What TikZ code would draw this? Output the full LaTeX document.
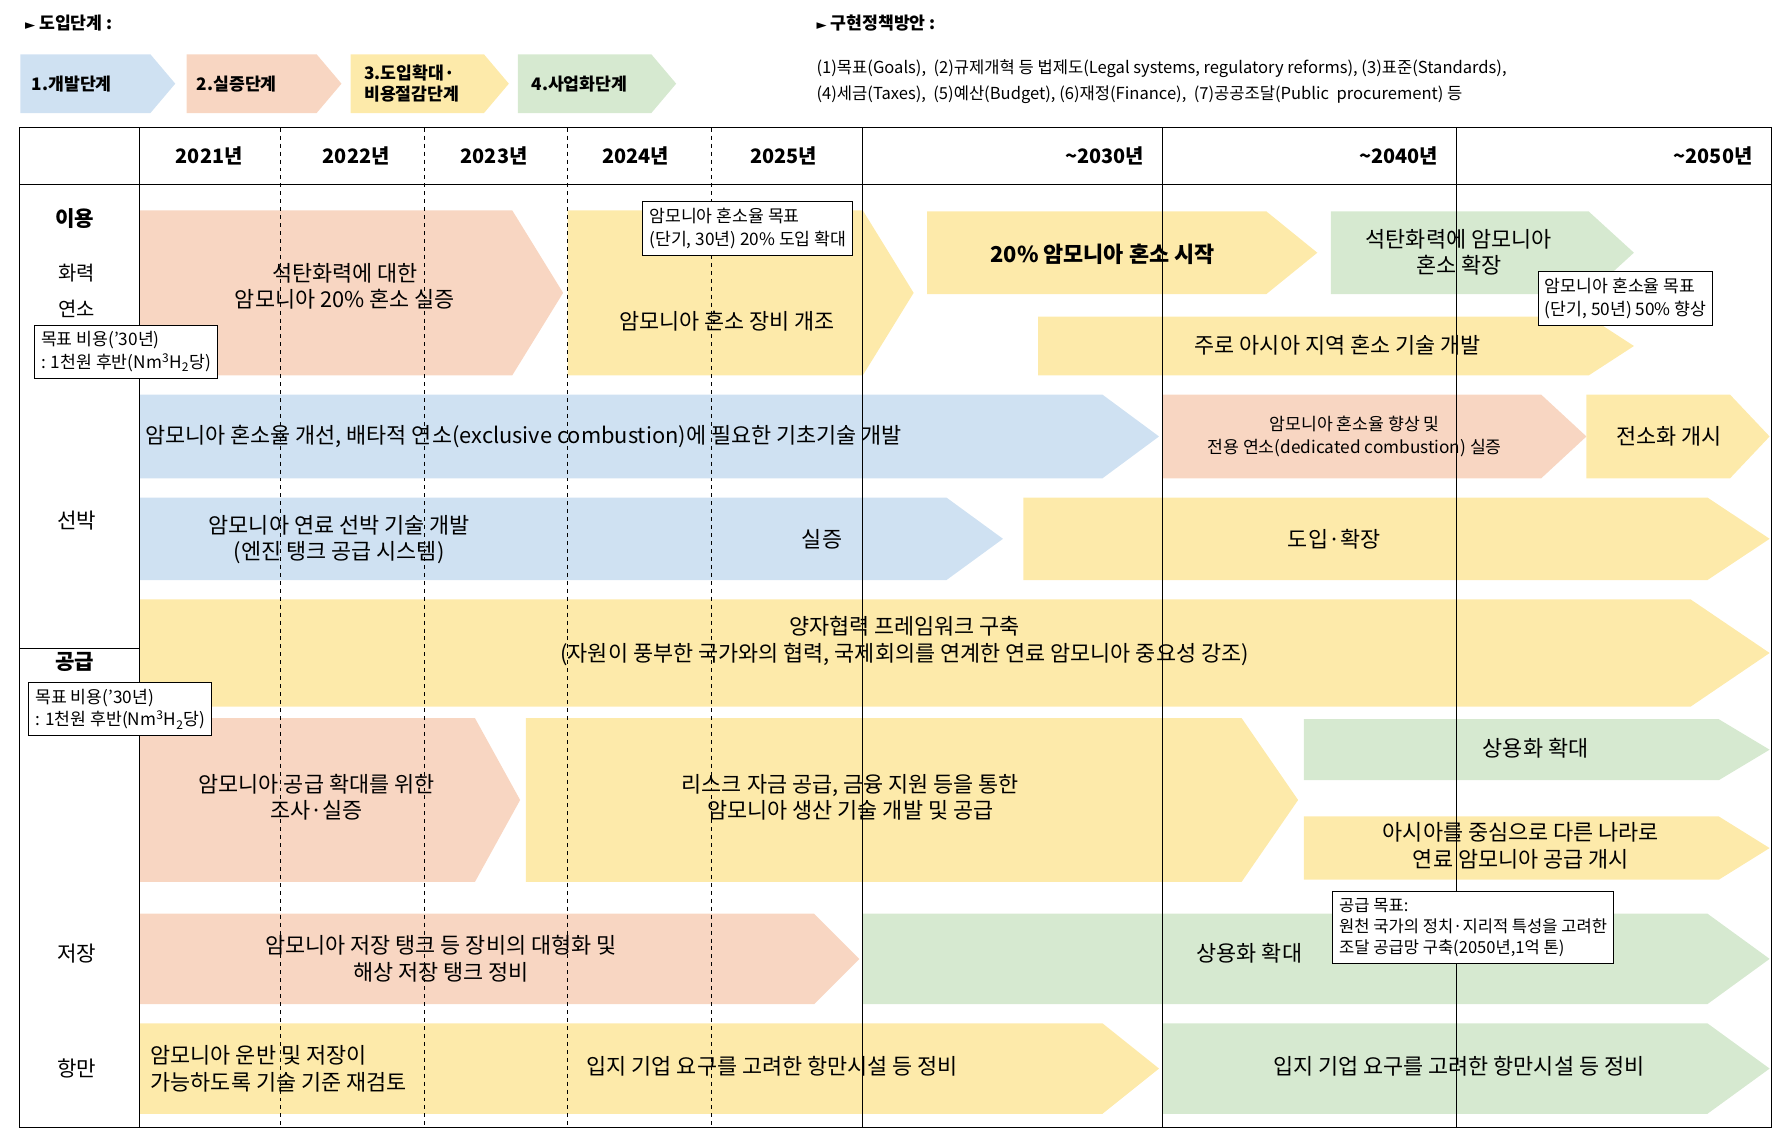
\documentclass[tikz,border=0pt]{standalone}
\usepackage{fontspec}
\setmainfont{Noto Sans CJK KR}
\newfontfamily\kserif{Noto Sans CJK KR}
\newfontfamily\djv{DejaVu Sans}
\begin{document}
\begin{tikzpicture}[x=0.03cm,y=-0.03cm,
  txt/.style={font=\fontsize{16.5}{20}\selectfont,align=center,inner sep=0pt},
  sml/.style={font=\fontsize{13}{17}\selectfont,align=center,inner sep=0pt},
  callout/.style={draw=black,fill=white,line width=0.8pt,font=\fontsize{13}{17}\selectfont,align=left,inner sep=5pt,anchor=north west},
  yr/.style={font=\bfseries\fontsize{15}{18}\selectfont,inner sep=0pt},
  rowlab/.style={font=\fontsize{16}{20}\selectfont,inner sep=0pt},
  grid/.style={line width=0.6pt},
  dgrid/.style={line width=0.6pt,dashed}]
\definecolor{cblue}{HTML}{CFE1F2}
\definecolor{cpeach}{HTML}{F8D6C2}
\definecolor{cyel}{HTML}{FDEAAA}
\definecolor{cgreen}{HTML}{D6E9D0}
\newcommand{\arr}[6]{\fill[#6] (#1,#3) -- ({#2-#5},#3) -- (#2,{(#3+#4)/2}) -- ({#2-#5},#4) -- (#1,#4) -- cycle;}
\newcommand{\hsub}{H\textsubscript{2}}
\useasboundingbox (0,0) rectangle (1568,998);
% header
\node[anchor=west,font=\bfseries\fontsize{13}{16}\selectfont] (h1) at (18,20) {{\djv\fontsize{10}{12}\selectfont ►} 도입단계 :};
\arr{18}{155}{48}{100}{22}{cblue}
\arr{165}{302}{48}{100}{22}{cpeach}
\arr{310}{450}{48}{100}{22}{cyel}
\arr{458}{598}{48}{100}{22}{cgreen}
\node[anchor=west,font=\bfseries\fontsize{13}{16}\selectfont] (l1) at (24,74) {1.개발단계};
\node[anchor=west,font=\bfseries\fontsize{13}{16}\selectfont] (l2) at (170,74) {2.실증단계};
\node[anchor=west,align=left,font=\bfseries\fontsize{13}{16}\selectfont] (l3) at (318,74) {3.도입확대·\\비용절감단계};
\node[anchor=west,font=\bfseries\fontsize{13}{16}\selectfont] (l4) at (466,74) {4.사업화단계};
\node[anchor=west,font=\bfseries\fontsize{13}{16}\selectfont] (h2) at (718,20) {{\djv\fontsize{10}{12}\selectfont ►} 구현정책방안 :};
\node[anchor=west,align=left,font=\kserif\fontsize{12.5}{20}\selectfont] (pol) at (718,72) {(1)목표(Goals),\ \ (2)규제개혁 등 법제도(Legal systems, regulatory reforms), (3)표준(Standards),\\(4)세금(Taxes),\ \ (5)예산(Budget), (6)재정(Finance),\ \ (7)공공조달(Public\ \ procurement) 등};
% bars
\arr{123}{498}{186}{332}{45}{cpeach}
\arr{502}{808}{186}{332}{45}{cyel}
\arr{820}{1165}{187}{260}{45}{cyel}
\arr{1177}{1445}{187}{260}{40}{cgreen}
\arr{918}{1445}{280}{332}{40}{cyel}
\arr{123}{1025}{349}{423}{50}{cblue}
\arr{1028}{1403}{349}{423}{40}{cpeach}
\arr{1403}{1565}{349}{423}{35}{cyel}
\arr{123}{887}{440}{513}{50}{cblue}
\arr{905}{1565}{440}{513}{55}{cyel}
\arr{123}{1565}{530}{625}{70}{cyel}
\arr{123}{460}{635}{780}{40}{cpeach}
\arr{465}{1148}{635}{780}{50}{cyel}
\arr{1153}{1565}{636}{690}{45}{cgreen}
\arr{1153}{1565}{722}{778}{45}{cyel}
\arr{123}{760}{808}{888}{40}{cpeach}
\arr{763}{1565}{808}{888}{55}{cgreen}
\arr{123}{1025}{905}{985}{50}{cyel}
\arr{1028}{1565}{905}{985}{55}{cgreen}
% grid
\draw[grid] (17,113) rectangle (1567,997);
\draw[grid] (17,163) -- (1567,163);
\draw[grid] (17,573) -- (123,573);
\draw[grid] (123,113) -- (123,997);
\foreach \x in {248,375,502,629} \draw[dgrid] (\x,113) -- (\x,997);
\foreach \x in {763,1028,1288} \draw[grid] (\x,113) -- (\x,997);
% years
\node[yr] (y1) at (185,138) {2021년};
\node[yr] (y2) at (315,138) {2022년};
\node[yr] (y3) at (437,138) {2023년};
\node[yr] (y4) at (562,138) {2024년};
\node[yr] (y5) at (693,138) {2025년};
\node[yr,anchor=east] (y6) at (1012,138) {\textasciitilde 2030년};
\node[yr,anchor=east] (y7) at (1272,138) {\textasciitilde 2040년};
\node[yr,anchor=east] (y8) at (1550,138) {\textasciitilde 2050년};
% row labels
\node[rowlab,font=\bfseries\fontsize{16}{20}\selectfont] (r1) at (66,193) {이용};
\node[rowlab,align=center,font=\fontsize{15}{27}\selectfont] (r2) at (68,257) {화력\\연소};
\node[rowlab] (r3) at (68,460) {선박};
\node[rowlab,font=\bfseries\fontsize{16}{20}\selectfont] (r4) at (66,585) {공급};
\node[rowlab] (r5) at (68,843) {저장};
\node[rowlab] (r6) at (68,945) {항만};
% bar texts
\node[txt] (t1) at (305,253) {석탄화력에 대한\\암모니아 20\% 혼소 실증};
\node[txt] (t2) at (643,284) {암모니아 혼소 장비 개조};
\node[txt,font=\bfseries\fontsize{16.5}{20}\selectfont] (t3) at (975,225) {20\% 암모니아 혼소 시작};
\node[txt] (t4) at (1290,223) {석탄화력에 암모니아\\혼소 확장};
\node[txt] (t5) at (1183,305) {주로 아시아 지역 혼소 기술 개발};
\node[txt,anchor=west] (t6) at (128,386) {암모니아 혼소율 개선, 배타적 연소(exclusive combustion)에 필요한 기초기술 개발};
\node[sml] (t7) at (1198,386) {암모니아 혼소율 향상 및\\전용 연소(dedicated combustion) 실증};
\node[txt] (t8) at (1476,386) {전소화 개시};
\node[txt] (t9) at (300,477) {암모니아 연료 선박 기술 개발\\(엔진 탱크 공급 시스템)};
\node[txt] (t10) at (727,477) {실증};
\node[txt] (t11) at (1180,477) {도입·확장};
\node[txt] (t12) at (800,567) {양자협력 프레임워크 구축\\(자원이 풍부한 국가와의 협력, 국제회의를 연계한 연료 암모니아 중요성 강조)};
\node[txt] (t13) at (280,705) {암모니아 공급 확대를 위한\\조사·실증};
\node[txt] (t14) at (752,705) {리스크 자금 공급, 금융 지원 등을 통한\\암모니아 생산 기술 개발 및 공급};
\node[txt] (t15) at (1358,662) {상용화 확대};
\node[txt] (t16) at (1345,748) {아시아를 중심으로 다른 나라로\\연료 암모니아 공급 개시};
\node[txt] (t17) at (390,848) {암모니아 저장 탱크 등 장비의 대형화 및\\해상 저장 탱크 정비};
\node[txt] (t18) at (1105,843) {상용화 확대};
\node[txt,anchor=west,align=left] (t19) at (133,945) {암모니아 운반 및 저장이\\가능하도록 기술 기준 재검토};
\node[txt] (t20) at (683,943) {입지 기업 요구를 고려한 항만시설 등 정비};
\node[txt] (t21) at (1290,943) {입지 기업 요구를 고려한 항만시설 등 정비};
% callouts
\node[callout] (c1) at (568,178) {암모니아 혼소율 목표\\(단기, 30년) 20\% 도입 확대};
\node[callout] (c2) at (1360,240) {암모니아 혼소율 목표\\(단기, 50년) 50\% 향상};
\node[callout] (c3) at (30,287) {목표 비용('30년)\\: 1천원 후반(Nm\textsuperscript{3}\hsub 당)};
\node[callout] (c4) at (25,603) {목표 비용('30년)\\: 1천원 후반(Nm\textsuperscript{3}\hsub 당)};
\node[callout,font=\fontsize{12.5}{16}\selectfont] (c5) at (1178,788) {공급 목표:\\원천 국가의 정치·지리적 특성을 고려한\\조달 공급망 구축(2050년,1억 톤)};
\end{tikzpicture}
\end{document}
